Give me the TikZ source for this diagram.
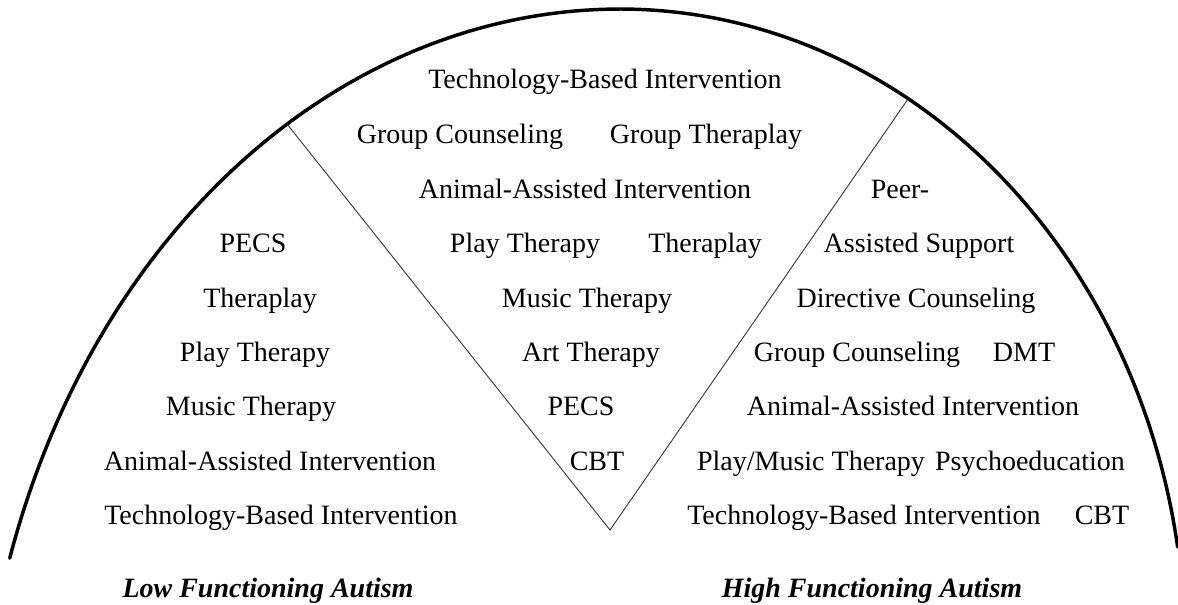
\documentclass[tikz,border=0pt]{standalone}
\usepackage{fontspec}
\setmainfont{Liberation Serif}
\definecolor{archInk}{HTML}{000000}
\definecolor{archGray}{HTML}{3A3A3A}
\tikzset{
  therapy/.style={anchor=base, inner sep=0pt, text=archInk, font=\fontsize{21}{25}\selectfont},
  group/.style={therapy, font=\fontsize{21}{25}\selectfont\bfseries\itshape},
}
\newcommand{\therapy}[3]{%
  \node[therapy] (#1) at #2 {#3};
}

\begin{document}
\begin{tikzpicture}[x=0.75pt, y=-0.75pt]
    \useasboundingbox (0,0) rectangle (1178,604);
    % the arch: two half ellipses meeting at the top
    \draw[archInk, line width=2.6pt, line cap=round]
      plot[domain=162.2:90, samples=90] ({620+641*cos(\x)}, {800-791*sin(\x)})
      -- plot[domain=90:9.25, samples=90] ({620+565*cos(\x)}, {650-641*sin(\x)});
    \coordinate (lowTop) at (287,124);
    \coordinate (apex) at (610,530);
    \coordinate (highTop) at (908,99);
    \draw[archGray, line width=0.7pt] (lowTop) -- (apex) -- (highTop);
    % low functioning
    \therapy{lowPecs}{(253,252)}{PECS}
    \therapy{lowTheraplay}{(260,307)}{Theraplay}
    \therapy{lowPlay}{(255,361)}{Play Therapy}
    \therapy{lowMusic}{(251,415)}{Music Therapy}
    \therapy{lowAnimal}{(270,470)}{Animal-Assisted Intervention}
    \therapy{lowTech}{(281,524)}{Technology-Based Intervention}
    % both
    \therapy{midTech}{(605,88)}{Technology-Based Intervention}
    \therapy{midGroupCoun}{(460,143)}{Group Counseling}
    \therapy{midGroupThera}{(706,143)}{Group Theraplay}
    \therapy{midAnimal}{(585,198)}{Animal-Assisted Intervention}
    \therapy{midPlay}{(525,252)}{Play Therapy}
    \therapy{midTheraplay}{(705,252)}{Theraplay}
    \therapy{midMusic}{(587,307)}{Music Therapy}
    \therapy{midArt}{(591,361)}{Art Therapy}
    \therapy{midPecs}{(581,415)}{PECS}
    \therapy{midCbt}{(597,470)}{CBT}
    % high functioning
    \therapy{highPeer}{(900,198)}{Peer-}
    \therapy{highAssisted}{(919,252)}{Assisted Support}
    \therapy{highDirective}{(916,307)}{Directive Counseling}
    \therapy{highGroup}{(857,361)}{Group Counseling}
    \therapy{highDmt}{(1024,361)}{DMT}
    \therapy{highAnimal}{(913,415)}{Animal-Assisted Intervention}
    \therapy{highPlayMusic}{(811,470)}{Play/Music Therapy}
    \therapy{highPsycho}{(1030,470)}{Psychoeducation}
    \therapy{highTech}{(864,524)}{Technology-Based Intervention}
    \therapy{highCbt}{(1102,524)}{CBT}
    \node[group] (lowLabel) at (268,597) {Low Functioning Autism};
    \node[group] (highLabel) at (872,597) {High Functioning Autism};
\end{tikzpicture}
\end{document}
